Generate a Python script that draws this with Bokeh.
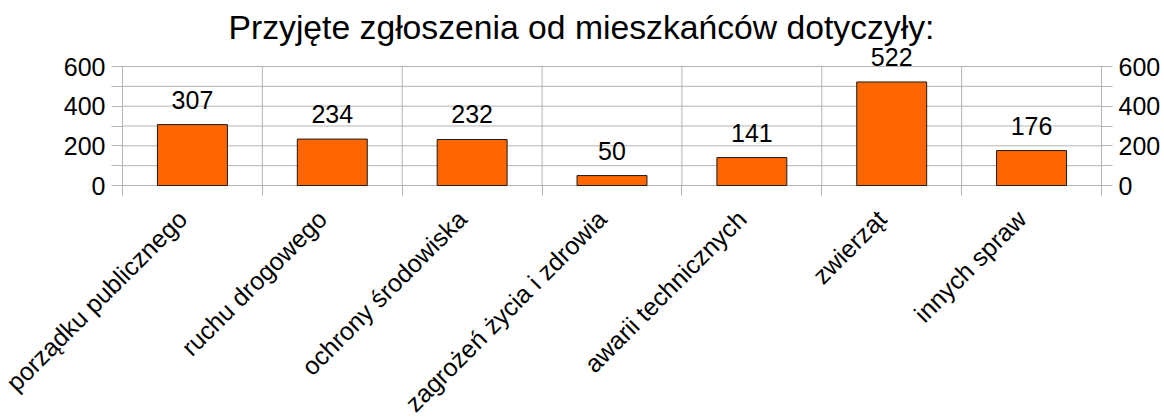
import math
from bokeh.plotting import figure
from bokeh.models import (ColumnDataSource, Label, LinearAxis, FixedTicker, Range1d)
from bokeh.embed import file_html
from bokeh.resources import INLINE

title_text = "Przyjęte zgłoszenia od mieszkańców dotyczyły:"
categories = ["porządku publicznego", "ruchu drogowego", "ochrony środowiska",
              "zagrożeń życia i zdrowia", "awarii technicznych", "zwierząt", "innych spraw"]
values = [307, 234, 232, 50, 141, 522, 176]
y_major_ticks = [0, 200, 400, 600]
y_minor_ticks = [100, 300, 500]

FONT = "Liberation Sans"
GRAY = "#b3b3b3"

# layout constants (pixels)
W, H = 1160, 416
TOP = 47
X0_PX, X1_PX = 122, 1101      # figure x of the plot-area left/right edges
ZERO_FROM_TOP = 185           # figure y of the value-0 line
PX_PER_UNIT_Y = 119 / 600.0   # vertical scale
LABEL_SHIFT_PX = -10          # horizontal nudge of category labels

n = len(categories)
px_per_unit_x = (X1_PX - X0_PX) / n
centers = [i + 0.5 for i in range(n)]
bounds = list(range(n + 1))
ymin_tick, ymax_tick = min(y_major_ticks), max(y_major_ticks)
all_y_ticks = sorted(y_major_ticks + y_minor_ticks)

x_left = -X0_PX / px_per_unit_x
x_right = n + (W - X1_PX) / px_per_unit_x
y_top = (ZERO_FROM_TOP - TOP) / PX_PER_UNIT_Y
y_bot = -(H - ZERO_FROM_TOP) / PX_PER_UNIT_Y
label_pos = [c + LABEL_SHIFT_PX / px_per_unit_x for c in centers]

src = ColumnDataSource(dict(x=centers, top=values))
vgrid = ColumnDataSource(dict(x=bounds, y0=[ymin_tick] * len(bounds),
                              y1=[ymax_tick] * len(bounds)))
hgrid = ColumnDataSource(dict(y=all_y_ticks, x0=[0] * len(all_y_ticks),
                              x1=[n] * len(all_y_ticks)))

p = figure(width=W, height=H, output_backend="svg", toolbar_location=None,
           x_range=Range1d(x_left, x_right), y_range=Range1d(y_bot, y_top),
           min_border_left=0, min_border_right=0, min_border_top=TOP,
           min_border_bottom=0)
p.outline_line_color = None
p.background_fill_color = "white"
p.border_fill_color = "white"

p.title.text = title_text
p.title.align = "left"
p.title.offset = 228
p.title.standoff = 3
p.title.text_font = FONT
p.title.text_font_size = "33.7px"
p.title.text_font_style = "normal"
p.title.text_color = "black"

p.xgrid.visible = False
p.ygrid.visible = False

# grid lines limited to the plot area
p.segment(x0="x", x1="x", y0="y0", y1="y1", source=vgrid, line_color=GRAY, line_width=1)
p.segment(x0="x0", x1="x1", y0="y", y1="y", source=hgrid, line_color=GRAY, line_width=1)

p.vbar(x="x", top="top", width=0.5, bottom=0, source=src,
       fill_color="#ff6600", line_color="#1a1a1a", line_width=1)

for xc, v in zip(centers, values):
    p.add_layout(Label(x=xc, y=v, text=str(v), y_offset=25,
                       text_align="center", text_baseline="alphabetic",
                       text_font=FONT, text_font_size="25px", text_color="black"))

# category axis drawn at value 0
xa = p.xaxis[0]
xa.fixed_location = 0
xa.ticker = FixedTicker(ticks=label_pos, minor_ticks=bounds)
xa.major_label_overrides = {pos: cat for pos, cat in zip(label_pos, categories)}
xa.major_label_orientation = math.pi / 4
xa.major_tick_line_color = None
xa.major_tick_in = 0
xa.major_tick_out = 10
xa.minor_tick_in = 0
xa.minor_tick_out = 10
xa.minor_tick_line_color = GRAY
xa.axis_line_color = None
xa.major_label_text_font = FONT
xa.major_label_text_font_size = "25px"
xa.major_label_text_color = "black"
xa.major_label_standoff = 19


def style_y(ya, loc):
    ya.fixed_location = loc
    ya.ticker = FixedTicker(ticks=y_major_ticks, minor_ticks=y_minor_ticks)
    ya.bounds = (ymin_tick, ymax_tick)
    ya.major_tick_in = 0
    ya.major_tick_out = 11
    ya.minor_tick_in = 0
    ya.minor_tick_out = 11
    ya.major_tick_line_color = GRAY
    ya.minor_tick_line_color = GRAY
    ya.axis_line_color = GRAY
    ya.major_label_text_font = FONT
    ya.major_label_text_font_size = "25px"
    ya.major_label_text_color = "black"
    ya.major_label_standoff = 6


style_y(p.yaxis[0], 0)
ra = LinearAxis()
style_y(ra, n)
p.add_layout(ra, "right")

open("out.html", "w").write(file_html(p, INLINE))
